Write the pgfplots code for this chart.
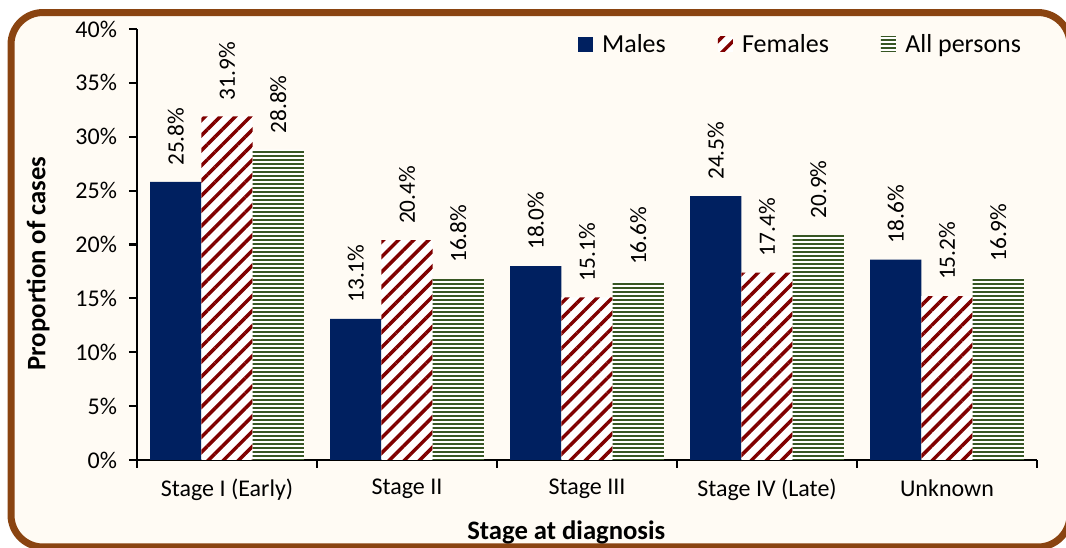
\documentclass[border=0pt]{standalone}
\usepackage{pgfplots}
\pgfplotsset{compat=1.18}
\usepackage{fontspec}
\setmainfont{Carlito}
\usetikzlibrary{patterns.meta}
\definecolor{navy}{HTML}{002060}
\definecolor{maroonred}{HTML}{800000}
\definecolor{olivegreen}{HTML}{375623}
\definecolor{cream}{HTML}{FFFBF4}
\definecolor{framebrown}{HTML}{8A4411}
\pgfplotsset{
  sqleg/.style={legend image code/.code={\draw[##1,draw=none] (0pt,-5.6pt) rectangle (11.25pt,5.6pt);}},
}
\begin{document}
\begin{tikzpicture}
\useasboundingbox (0,0) rectangle (799.5pt,411pt);
\draw[draw=framebrown, line width=5.25pt, fill=cream, rounded corners=24pt] (8.25pt,401.6pt) rectangle (802.5pt,0.75pt);
\begin{axis}[
  at={(102.75pt,66pt)}, anchor=south west,
  scale only axis, width=675pt, height=323.25pt,
  xmin=-0.5, xmax=4.5, ymin=0, ymax=40,
  axis x line*=bottom, axis y line*=left,
  axis line style={line width=1.6pt, black},
  every tick/.style={black, line width=1.6pt},
  tick align=outside, major tick length=6pt,
  xtick={-0.5,0.5,1.5,2.5,3.5,4.5},
  x tick label as interval,
  xticklabels={Stage I (Early), Stage II, Stage III, Stage IV (Late), Unknown},
  ytick={0,5,10,15,20,25,30,35,40},
  yticklabels={0\%,5\%,10\%,15\%,20\%,25\%,30\%,35\%,40\%},
  tick label style={font=\fontsize{18}{21}\selectfont, text=black},
  yticklabel style={xshift=-5.5pt},
  xticklabel style={yshift=-5pt},
  /pgf/number format/assume math mode=true,
  ybar=0pt, bar width=0.285,
  nodes near coords={\pgfmathprintnumber[fixed,fixed zerofill,precision=1]{\pgfplotspointmeta}\%},
  every node near coord/.append style={rotate=90, anchor=west, text=black, inner xsep=12pt, font=\fontsize{17.5}{20}\selectfont},
  xlabel={Stage at diagnosis},
  ylabel={Proportion of cases},
  xlabel style={at={(rel axis cs:0.477,-0.168)}, anchor=center, font=\bfseries\fontsize{20}{24}\selectfont},
  ylabel style={at={(rel axis cs:-0.11,0.456)}, anchor=center, rotate=0, font=\bfseries\fontsize{20}{24}\selectfont},
  legend columns=3,
  legend cell align=left,
  legend style={draw=none, fill=none, at={(rel axis cs:0.99,0.965)}, anchor=east,
    font=\fontsize{19.5}{23}\selectfont,
    /tikz/every odd column/.append style={column sep=5pt},
    /tikz/every even column/.append style={column sep=37pt}},
]
\addplot[fill=navy, draw=none, bar shift=-0.285, sqleg] coordinates {(0,25.8) (1,13.1) (2,18.0) (3,24.5) (4,18.6)};
\addlegendentry{Males}
\addplot[fill=white, draw=none, bar shift=0, sqleg,
  postaction={pattern={Lines[angle=45,distance=8pt,line width=2.6pt]}, pattern color=maroonred}]
  coordinates {(0,31.9) (1,20.4) (2,15.1) (3,17.4) (4,15.2)};
\addlegendentry{Females}
\addplot[fill=white, draw=none, bar shift=0.285, sqleg,
  postaction={pattern={Lines[angle=0,distance=3pt,line width=1.5pt]}, pattern color=olivegreen}]
  coordinates {(0,28.8) (1,16.8) (2,16.6) (3,20.9) (4,16.9)};
\addlegendentry{All persons}
\end{axis}
\end{tikzpicture}
\end{document}
